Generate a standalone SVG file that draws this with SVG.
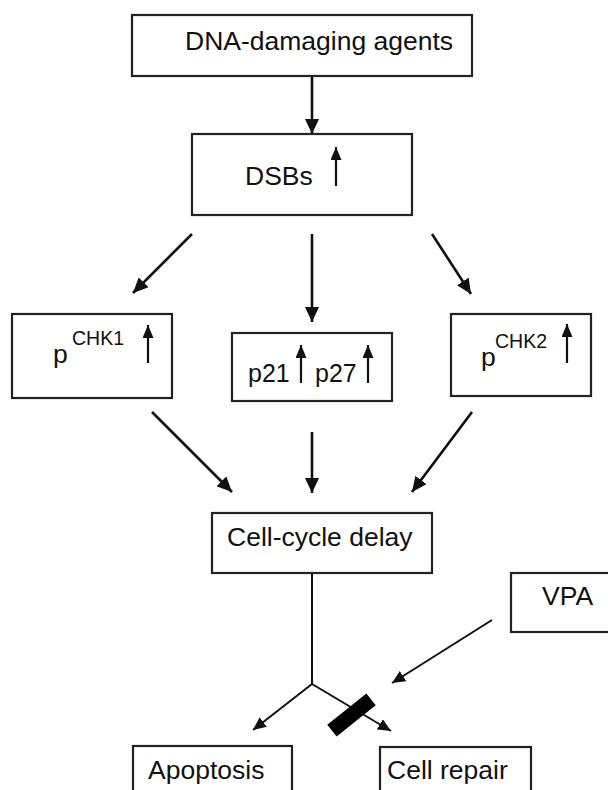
<svg xmlns="http://www.w3.org/2000/svg" width="608" height="790" viewBox="0 0 608 790">
<style>
.box{fill:#fff;stroke:#222;stroke-width:2.2}
.t{font-family:"Liberation Sans",Arial,sans-serif;font-size:26.5px;fill:#111}
.sup{font-size:19.5px}
.c{stroke:#111;stroke-width:2.6;fill:none}
.c2{stroke:#111;stroke-width:2;fill:none}
.up{stroke:#111;stroke-width:2.2;fill:none}
</style>
<defs>
<marker id="ah" markerUnits="userSpaceOnUse" markerWidth="16" markerHeight="14" refX="15" refY="7" orient="auto">
<path d="M0,0 L15,7 L0,14 Z" fill="#111"/>
</marker>
<marker id="ahs" markerUnits="userSpaceOnUse" markerWidth="14" markerHeight="12" refX="13" refY="6" orient="auto">
<path d="M0,0 L13,6 L0,12 Z" fill="#111"/>
</marker>
<marker id="upm" markerUnits="userSpaceOnUse" markerWidth="13" markerHeight="12" refX="13" refY="5.5" orient="auto">
<path d="M0,0 L13,5.5 L0,11 Z" fill="#111"/>
</marker>
</defs>

<g id="connectors">
<line class="c" x1="312" y1="76" x2="312" y2="134" marker-end="url(#ah)"/>
<line class="c" x1="192" y1="234" x2="133" y2="293" marker-end="url(#ah)"/>
<line class="c" x1="312" y1="234" x2="312" y2="322" marker-end="url(#ah)"/>
<line class="c" x1="432" y1="234" x2="471" y2="294" marker-end="url(#ah)"/>
<line class="c" x1="152" y1="412" x2="232" y2="492" marker-end="url(#ah)"/>
<line class="c" x1="312" y1="432" x2="312" y2="493" marker-end="url(#ah)"/>
<line class="c" x1="472" y1="412" x2="412" y2="492" marker-end="url(#ah)"/>
<line class="c2" x1="312" y1="573" x2="312" y2="684"/>
<line class="c2" x1="312" y1="684" x2="253" y2="730" marker-end="url(#ahs)"/>
<line class="c2" x1="312" y1="684" x2="391" y2="731" marker-end="url(#ahs)"/>
<line class="c2" x1="492" y1="620" x2="392" y2="683" marker-end="url(#ahs)"/>
<rect x="-25" y="-7.5" width="50" height="15" fill="#000" transform="translate(351.5,715) rotate(-38.5)"/>
</g>

<g id="dna">
<rect class="box" x="132" y="15" width="340" height="61"/>
<text class="t" x="185" y="50">DNA-damaging agents</text>
</g>

<g id="dsbs">
<rect class="box" x="192" y="134" width="220" height="81"/>
<text class="t" x="245" y="185">DSBs</text>
<line class="up" x1="336" y1="186" x2="336" y2="147" marker-end="url(#upm)"/>
</g>

<g id="chk1">
<rect class="box" x="12" y="314" width="160" height="84"/>
<text class="t" x="53" y="363">p<tspan class="sup" x="72" y="345">CHK1</tspan></text>
<line class="up" x1="148" y1="363" x2="148" y2="325" marker-end="url(#upm)"/>
</g>

<g id="p21p27">
<rect class="box" x="232" y="333" width="160" height="68"/>
<text class="t" x="248" y="382" style="font-size:25px">p21</text>
<line class="up" x1="301" y1="383" x2="301" y2="345" marker-end="url(#upm)"/>
<text class="t" x="315" y="382" style="font-size:25px">p27</text>
<line class="up" x1="368" y1="383" x2="368" y2="345" marker-end="url(#upm)"/>
</g>

<g id="chk2">
<rect class="box" x="451" y="314" width="140" height="82"/>
<text class="t" x="481" y="366">p<tspan class="sup" x="495" y="348">CHK2</tspan></text>
<line class="up" x1="567" y1="363" x2="567" y2="324" marker-end="url(#upm)"/>
</g>

<g id="cellcycle">
<rect class="box" x="212" y="513" width="220" height="60"/>
<text class="t" x="227" y="546">Cell-cycle delay</text>
</g>

<g id="vpa">
<rect class="box" x="511" y="573" width="120" height="59"/>
<text class="t" x="542" y="605">VPA</text>
</g>

<g id="apoptosis">
<rect class="box" x="133" y="746" width="159" height="60"/>
<text class="t" x="148" y="779">Apoptosis</text>
</g>

<g id="repair">
<rect class="box" x="380" y="747" width="151" height="60"/>
<text class="t" x="387" y="779">Cell repair</text>
</g>
</svg>
